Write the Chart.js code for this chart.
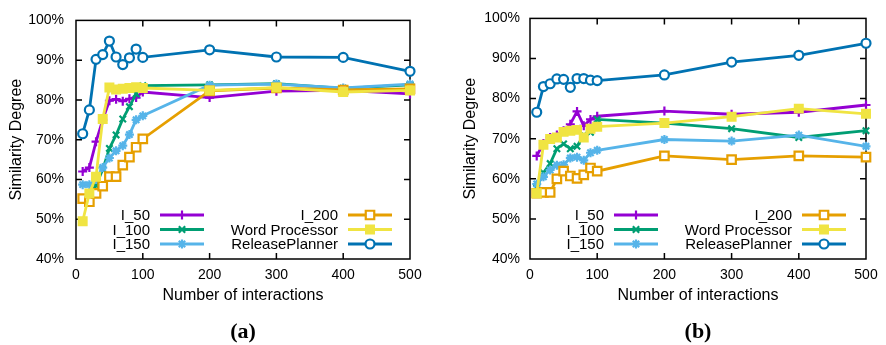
<!DOCTYPE html>
<html>
<head>
<meta charset="utf-8">
<title>Similarity Degree vs Number of interactions</title>
<script src="https://cdn.jsdelivr.net/npm/chart.js@4.4.1/dist/chart.umd.min.js"></script>
<style>
  body { margin: 0; background: #fff; }
  .wrap { position: relative; width: 886px; height: 345px; overflow: hidden; }
  .panel { position: absolute; top: 0; width: 443px; height: 345px; }
  .caption { position: absolute; top: 318px; font: bold 22px "Liberation Serif", "DejaVu Serif", serif; transform: translateX(-50%); line-height: 26px; color: #000; }
</style>
</head>
<body>
<div class="wrap">
  <div class="panel" style="left:0">
    <canvas id="chartA" width="443" height="345"></canvas>
    <div class="caption" style="left:243px">(a)</div>
  </div>
  <div class="panel" style="left:443px">
    <canvas id="chartB" width="443" height="345"></canvas>
    <div class="caption" style="left:255px">(b)</div>
  </div>
</div>
<script>
// x values (number of interactions)
const interactions = [10, 20, 30, 40, 50, 60, 70, 80, 90, 100, 200, 300, 400, 500];
const seriesNames = ['I_50', 'I_100', 'I_150', 'I_200', 'Word Processor', 'ReleasePlanner'];

// panel (a)
const a_l50  = [62.0, 63.0, 69.5, 75.0, 79.8, 80.2, 79.7, 80.3, 80.6, 82.0, 80.6, 82.2, 82.4, 81.5];
const a_l100 = [55.1, 56.0, 58.5, 62.5, 67.8, 71.2, 75.2, 78.3, 81.5, 83.6, 83.8, 84.1, 82.9, 83.8];
const a_l150 = [58.7, 58.7, 60.0, 63.0, 65.4, 67.2, 68.5, 71.3, 75.0, 76.0, 83.7, 84.0, 83.0, 84.0];
const a_l200 = [55.2, 54.4, 56.5, 58.3, 60.7, 60.7, 63.6, 65.6, 68.1, 70.2, 82.3, 83.0, 82.5, 82.8];
const a_wp   = [49.5, 56.5, 60.7, 75.2, 83.1, 82.6, 82.8, 83.0, 83.2, 83.0, 82.4, 83.1, 82.0, 82.4];
const a_rp   = [71.5, 77.5, 90.2, 91.4, 94.8, 90.8, 88.9, 90.6, 92.8, 90.7, 92.6, 90.8, 90.7, 87.2];

// panel (b)
const b_l50  = [65.7, 68.8, 70.3, 70.9, 72.0, 73.6, 76.8, 73.2, 74.8, 75.6, 76.9, 76.1, 76.6, 78.4];
const b_l100 = [57.8, 61.5, 63.8, 67.5, 68.7, 67.5, 68.1, 70.9, 71.6, 74.8, 73.9, 72.5, 70.3, 72.0];
const b_l150 = [58.7, 60.5, 62.2, 63.4, 63.5, 65.2, 65.4, 64.6, 66.5, 67.1, 69.8, 69.4, 70.9, 68.1];
const b_l200 = [56.4, 56.6, 56.6, 60.0, 61.9, 60.7, 60.1, 61.0, 62.7, 61.9, 65.7, 64.8, 65.7, 65.4];
const b_wp   = [56.4, 68.5, 69.9, 70.3, 71.7, 72.0, 72.2, 70.3, 72.5, 73.0, 73.9, 75.5, 77.5, 76.2];
const b_rp   = [76.6, 83.0, 83.7, 84.9, 84.8, 82.8, 85.0, 85.0, 84.6, 84.5, 85.9, 89.1, 90.8, 93.8];

const yTicks = [40, 50, 60, 70, 80, 90, 100];

const styles = [
  { color: '#9400d3', pointStyle: 'cross',    radius: 4.5, fill: '#9400d3' },
  { color: '#009e73', pointStyle: 'crossRot', radius: 4.5, fill: '#009e73' },
  { color: '#56b4e9', pointStyle: 'star',     radius: 4.5, fill: '#56b4e9' },
  { color: '#e69f00', pointStyle: 'rect',     radius: 6,   fill: '#fff' },
  { color: '#f0e442', pointStyle: 'rect',     radius: 5.5, fill: '#f0e442' },
  { color: '#0072b2', pointStyle: 'circle',   radius: 4.5, fill: '#fff' }
];

Chart.defaults.font.family = '"Liberation Sans", Arial, sans-serif';
Chart.defaults.color = '#000';

// box with inward ticks on all four sides, placed by the scales
const framePlugin = {
  id: 'frame',
  beforeDatasetsDraw(chart) {
    const { ctx, chartArea: a, scales: { x, y } } = chart;
    ctx.save();
    ctx.strokeStyle = '#000';
    ctx.lineWidth = 1.5;
    ctx.beginPath();
    x.ticks.forEach(t => {
      if (t.value <= x.min || t.value >= x.max) return;
      const px = x.getPixelForValue(t.value);
      ctx.moveTo(px, a.bottom); ctx.lineTo(px, a.bottom - 6);
      ctx.moveTo(px, a.top); ctx.lineTo(px, a.top + 6);
    });
    y.ticks.forEach(t => {
      if (t.value <= y.min || t.value >= y.max) return;
      const py = y.getPixelForValue(t.value);
      ctx.moveTo(a.left, py); ctx.lineTo(a.left + 6, py);
      ctx.moveTo(a.right, py); ctx.lineTo(a.right - 6, py);
    });
    ctx.stroke();
    ctx.strokeRect(a.left, a.top, a.right - a.left, a.bottom - a.top);
    ctx.restore();
  }
};

// gnuplot style key: text right aligned, sample line + marker to the right
const keyPlugin = {
  id: 'gpkey',
  afterDatasetsDraw(chart) {
    const { ctx, chartArea: a } = chart;
    const rows = [a.bottom - 44, a.bottom - 29.5, a.bottom - 15];
    const cols = [74, 262];
    ctx.save();
    ctx.font = '15px "Liberation Sans", Arial, sans-serif';
    ctx.textAlign = 'right';
    ctx.textBaseline = 'middle';
    chart.data.datasets.forEach((ds, i) => {
      const col = Math.floor(i / 3), row = i % 3;
      const tx = a.left + cols[col], ty = rows[row];
      ctx.fillStyle = '#000';
      ctx.fillText(ds.label, tx, ty + 1);
      const x0 = tx + 10, x1 = tx + 54;
      ctx.strokeStyle = ds.borderColor;
      ctx.lineWidth = ds.borderWidth;
      ctx.beginPath();
      ctx.moveTo(x0, ty); ctx.lineTo(x1, ty);
      ctx.stroke();
      ctx.fillStyle = ds.pointBackgroundColor;
      ctx.lineWidth = ds.pointBorderWidth;
      Chart.helpers.drawPoint(ctx, {
        pointStyle: ds.pointStyle, radius: ds.pointRadius,
        borderWidth: ds.pointBorderWidth, rotation: 0
      }, (x0 + x1) / 2, ty);
    });
    ctx.restore();
  }
};

function makeChart(id, values, pad, tickPad) {
  const datasets = values.map((vals, i) => ({
    label: seriesNames[i],
    data: interactions.map((x, j) => ({ x: x, y: vals[j] })),
    borderColor: styles[i].color,
    borderWidth: 2.8,
    pointStyle: styles[i].pointStyle,
    pointRadius: styles[i].radius,
    pointBorderColor: styles[i].color,
    pointBackgroundColor: styles[i].fill,
    pointBorderWidth: 2.2,
    tension: 0,
    clip: false,
    order: values.length - i
  }));
  return new Chart(document.getElementById(id), {
    type: 'line',
    data: { datasets: datasets },
    options: {
      responsive: false,
      animation: false,
      events: [],
      layout: { padding: { left: pad.left, right: pad.right, top: 14, bottom: 28 } },
      plugins: { legend: { display: false }, tooltip: { enabled: false } },
      scales: {
        x: {
          type: 'linear', min: 0, max: 500,
          grid: { display: false, drawTicks: false },
          border: { display: false },
          ticks: { stepSize: 100, padding: 8, font: { size: 14 } },
          title: { display: true, text: 'Number of interactions', font: { size: 16 }, padding: { top: 0, bottom: 12 } },
          afterFit(scale) { scale.height = 58; }
        },
        y: {
          min: 40, max: 100,
          grid: { display: false, drawTicks: false },
          border: { display: false },
          afterBuildTicks(scale) { scale.ticks = yTicks.map(v => ({ value: v })); },
          ticks: { padding: tickPad, font: { size: 14 }, callback: v => v + '%' },
          title: { display: true, text: 'Similarity Degree', font: { size: 16 }, padding: { top: 7, bottom: 0 } },
          afterFit(scale) { scale.width = 76; }
        }
      }
    },
    plugins: [framePlugin, keyPlugin]
  });
}

makeChart('chartA', [a_l50, a_l100, a_l150, a_l200, a_wp, a_rp], { left: 0, right: 33 }, 12);
makeChart('chartB', [b_l50, b_l100, b_l150, b_l200, b_wp, b_rp], { left: 11, right: 20 }, 10);
</script>
</body>
</html>
